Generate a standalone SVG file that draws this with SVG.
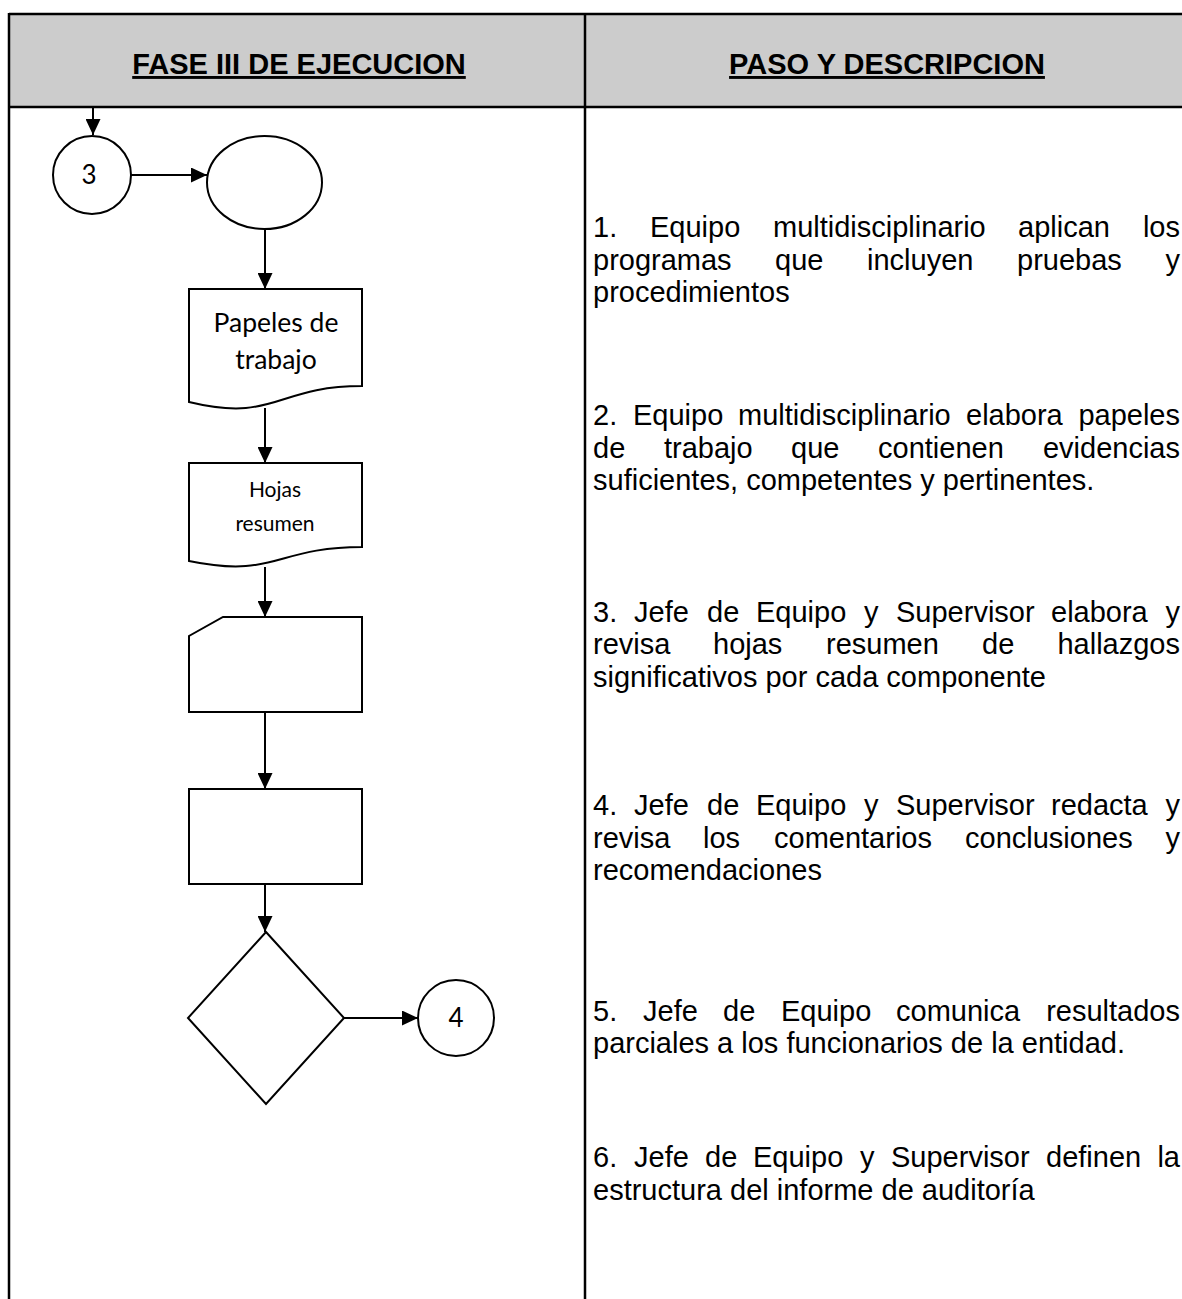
<svg xmlns="http://www.w3.org/2000/svg" width="1182" height="1299" viewBox="0 0 1182 1299">
<style>
.frame{stroke:#000;stroke-width:2.5;fill:none}
.shape{fill:#fff;stroke:#000;stroke-width:2}
.conn{stroke:#000;stroke-width:2;fill:none;marker-end:url(#ah)}
.hdr{font-family:"Liberation Sans",Arial,sans-serif;font-weight:bold;font-size:29px;text-anchor:middle;text-decoration:underline;fill:#000}
.body{font-family:"Liberation Sans",Arial,sans-serif;font-size:29px;fill:#000}
.lbl{font-family:Lato,"Open Sans",sans-serif;fill:#000;text-anchor:middle}
.e{text-anchor:end}
</style>
<defs>
<marker id="ah" markerUnits="userSpaceOnUse" markerWidth="16" markerHeight="15" refX="16" refY="7.5" orient="auto">
<path d="M0,0 L16,7.5 L0,15 z" fill="#000"/>
</marker>
</defs>

<g id="table">
<rect x="9" y="14" width="1190" height="93" fill="#cccccc"/>
<line class="frame" x1="9" y1="14" x2="1182" y2="14"/>
<line class="frame" x1="9" y1="107" x2="1182" y2="107"/>
<line class="frame" x1="9" y1="13" x2="9" y2="1299"/>
<line class="frame" x1="585" y1="13" x2="585" y2="1299"/>
<text class="hdr" x="299" y="74">FASE III DE EJECUCION</text>
<text class="hdr" x="887" y="74">PASO Y DESCRIPCION</text>
</g>

<g id="connectors">
<line class="conn" x1="93" y1="108" x2="93" y2="135"/>
<line class="conn" x1="131" y1="175" x2="207" y2="175"/>
<line class="conn" x1="265" y1="229" x2="265" y2="289"/>
<line class="conn" x1="265" y1="408" x2="265" y2="463"/>
<line class="conn" x1="265" y1="567" x2="265" y2="617"/>
<line class="conn" x1="265" y1="712" x2="265" y2="789"/>
<line class="conn" x1="265" y1="884" x2="265" y2="932"/>
<line class="conn" x1="344" y1="1018" x2="418" y2="1018"/>
</g>

<g id="node-conector3">
<circle class="shape" cx="92" cy="175" r="39"/>
<text class="lbl" x="89" y="184" font-size="26">3</text>
</g>
<g id="node-inicio">
<ellipse class="shape" cx="264.5" cy="182.5" rx="57.5" ry="46.5"/>
</g>
<g id="node-papeles">
<path class="shape" d="M189,289 H362 V386 C275.5,386 275.5,423 189,402 Z"/>
<text class="lbl" x="276" y="332" font-size="26.5">Papeles de</text>
<text class="lbl" x="276" y="369" font-size="26.5">trabajo</text>
</g>
<g id="node-hojas">
<path class="shape" d="M189,463 H362 V547 C275.5,547 275.5,579 189,561 Z"/>
<text class="lbl" x="275" y="497" font-size="21">Hojas</text>
<text class="lbl" x="275" y="531" font-size="21">resumen</text>
</g>
<g id="node-tarjeta">
<path class="shape" d="M223,617 H362 V712 H189 V636 Z"/>
</g>
<g id="node-proceso">
<rect class="shape" x="189" y="789" width="173" height="95"/>
</g>
<g id="node-decision">
<path class="shape" d="M266,932 L344,1018 L266,1104 L188,1018 Z"/>
</g>
<g id="node-conector4">
<circle class="shape" cx="456" cy="1018" r="38"/>
<text class="lbl" x="456" y="1027" font-size="26">4</text>
</g>

<g id="descripcion">
<text class="body" y="237"><tspan x="593">1.</tspan><tspan x="650">Equipo</tspan><tspan x="773">multidisciplinario</tspan><tspan x="1018">aplican</tspan></text>
<text class="body e" x="1180" y="237">los</text>
<text class="body" y="270"><tspan x="593">programas</tspan><tspan x="775">que</tspan><tspan x="867">incluyen</tspan><tspan x="1017">pruebas</tspan></text>
<text class="body e" x="1180" y="270">y</text>
<text class="body" x="593" y="302">procedimientos</text>

<text class="body" y="425"><tspan x="593">2.</tspan><tspan x="633">Equipo</tspan><tspan x="738">multidisciplinario</tspan><tspan x="966">elabora</tspan></text>
<text class="body e" x="1180" y="425">papeles</text>
<text class="body" y="458"><tspan x="593">de</tspan><tspan x="664">trabajo</tspan><tspan x="791">que</tspan><tspan x="878">contienen</tspan></text>
<text class="body e" x="1180" y="458">evidencias</text>
<text class="body" x="593" y="490">suficientes, competentes y pertinentes.</text>

<text class="body" y="622"><tspan x="593">3.</tspan><tspan x="634">Jefe</tspan><tspan x="707">de</tspan><tspan x="756">Equipo</tspan><tspan x="864">y</tspan><tspan x="896">Supervisor</tspan><tspan x="1051">elabora</tspan></text>
<text class="body e" x="1180" y="622">y</text>
<text class="body" y="654"><tspan x="593">revisa</tspan><tspan x="713">hojas</tspan><tspan x="826">resumen</tspan><tspan x="982">de</tspan></text>
<text class="body e" x="1180" y="654">hallazgos</text>
<text class="body" x="593" y="687">significativos por cada componente</text>

<text class="body" y="815"><tspan x="593">4.</tspan><tspan x="634">Jefe</tspan><tspan x="707">de</tspan><tspan x="756">Equipo</tspan><tspan x="864">y</tspan><tspan x="896">Supervisor</tspan><tspan x="1051">redacta</tspan></text>
<text class="body e" x="1180" y="815">y</text>
<text class="body" y="848"><tspan x="593">revisa</tspan><tspan x="703">los</tspan><tspan x="774">comentarios</tspan><tspan x="965">conclusiones</tspan></text>
<text class="body e" x="1180" y="848">y</text>
<text class="body" x="593" y="880">recomendaciones</text>

<text class="body" y="1021"><tspan x="593">5.</tspan><tspan x="643">Jefe</tspan><tspan x="723">de</tspan><tspan x="781">Equipo</tspan><tspan x="896">comunica</tspan></text>
<text class="body e" x="1180" y="1021">resultados</text>
<text class="body" x="593" y="1053">parciales a los funcionarios de la entidad.</text>

<text class="body" y="1167"><tspan x="593">6.</tspan><tspan x="634">Jefe</tspan><tspan x="705">de</tspan><tspan x="753">Equipo</tspan><tspan x="860">y</tspan><tspan x="891">Supervisor</tspan><tspan x="1046">definen</tspan></text>
<text class="body e" x="1180" y="1167">la</text>
<text class="body" x="593" y="1200">estructura del informe de auditoría</text>
</g>
</svg>
